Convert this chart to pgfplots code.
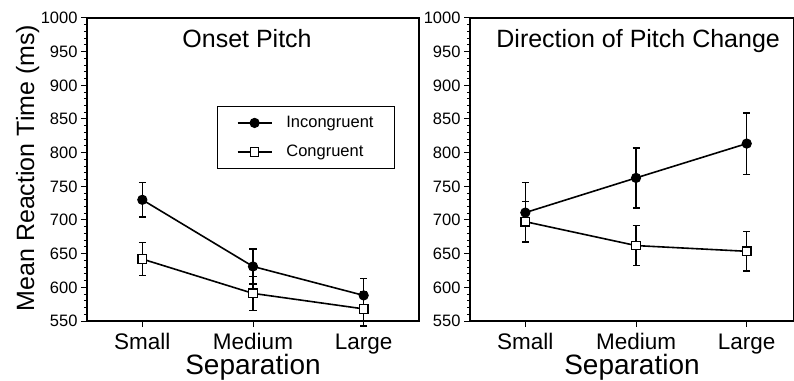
\documentclass[border=0pt]{standalone}
\usepackage{pgfplots}
\pgfplotsset{compat=1.18}
\usepackage{fontspec}
\setmainfont{Liberation Sans}

\pgfplotsset{
 panel/.style={
  scale only axis, height=303bp,
  ymin=550, ymax=1000, ytick={550,600,...,1000}, minor y tick num=4,
  xmin=-0.5,
  xtick={0,1,2}, xticklabels={Small,Medium,Large},
  tick align=outside, xtick pos=left, ytick pos=left,
  major tick length=6bp, minor tick length=3bp,
  axis line style={line width=1.7bp},
  every tick/.style={black, line width=1bp},
  /pgf/number format/assume math mode=true,
  /pgf/number format/1000 sep={},
  yticklabel style={font=\fontsize{16.5bp}{18bp}\selectfont},
  xticklabel style={font=\fontsize{22.5bp}{24bp}\selectfont, anchor=base, yshift=-22bp},
  xlabel={Separation},
  every axis x label/.style={at={(axis description cs:0.5,-0.178)}, anchor=base, font=\fontsize{28bp}{30bp}\selectfont},
  clip=false,
 },
 incong/.style={black, line width=1.6bp, mark=*, mark size=4.6bp, mark options={solid, fill=black, line width=1bp},
   error bars/.cd, y dir=both, y explicit, error bar style={line width=1.4bp}, error mark options={rotate=90, mark size=3.5bp, line width=1.4bp}},
 cong/.style={black, line width=1.6bp, mark=square*, mark size=4.3bp, mark options={solid, fill=white, line width=1.2bp},
   error bars/.cd, y dir=both, y explicit, error bar style={line width=1.4bp}, error mark options={rotate=90, mark size=3.5bp, line width=1.4bp}},
}

\begin{document}
\begin{tikzpicture}
\useasboundingbox (-87bp,-60bp) rectangle (707bp,321bp);
\begin{axis}[panel, width=332bp, xmax=2.5,
  ylabel={Mean Reaction Time (ms)},
  every axis y label/.style={at={(axis description cs:-0.1596,0.505)}, rotate=90, anchor=base, font=\fontsize{25bp}{27bp}\selectfont},
  legend style={at={(axis description cs:0.392,0.71)}, anchor=north west, draw=black, line width=1.3bp,
    font=\fontsize{16.5bp}{18bp}\selectfont, inner xsep=19bp, inner ysep=8bp, row sep=12bp, column sep=12bp},
  legend cell align=left,
  legend image code/.code={\draw[#1, mark repeat=2, mark phase=2] plot coordinates {(0bp,0bp) (17bp,0bp) (34bp,0bp)};},
]
\addplot[incong] coordinates {(0,730) +- (0,25.5) (1,631) +- (0,26) (2,588) +- (0,25)};
\addlegendentry{Incongruent}
\addplot[cong] coordinates {(0,642) +- (0,24.5) (1,591) +- (0,25) (2,568) +- (0,25.5)};
\addlegendentry{Congruent}
\node[anchor=base, font=\fontsize{25bp}{27bp}\selectfont] at (axis description cs:0.482,0.904) {Onset Pitch};
\end{axis}
\begin{axis}[panel, at={(383bp,0bp)}, width=324bp, xmax=2.427]
\addplot[incong] coordinates {(0,711) +- (0,44.5) (1,762.5) +- (0,44.5) (2,813.5) +- (0,45.5)};
\addplot[cong] coordinates {(0,697.5) +- (0,30) (1,662) +- (0,30) (2,653.5) +- (0,29.5)};
\node[anchor=base, font=\fontsize{25bp}{27bp}\selectfont] at (axis description cs:0.519,0.904) {Direction of Pitch Change};
\end{axis}
\end{tikzpicture}
\end{document}
